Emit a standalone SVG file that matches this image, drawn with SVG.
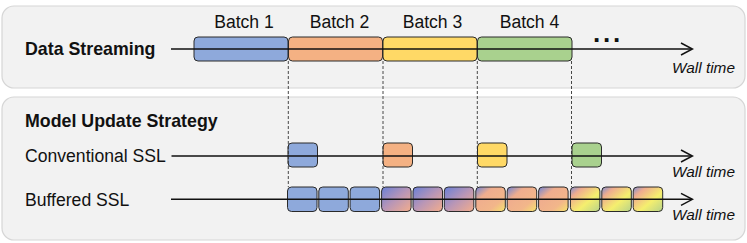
<svg xmlns="http://www.w3.org/2000/svg" width="747" height="243" viewBox="0 0 747 243">
<defs>
<style>
.panel{fill:#f2f2f2;stroke:#d6d6d6;stroke-width:1.2}
.box{stroke:#2a2a2a;stroke-width:1}
.b1{fill:#8ea9db}.b2{fill:#f4b183}.b3{fill:#ffd966}.b4{fill:#a9d18e}
.g2{fill:url(#grad2)}.g3{fill:url(#grad3)}.g4{fill:url(#grad4)}
.axis{stroke:#111;stroke-width:1.5;fill:none}
.dash{stroke:#333;stroke-width:0.9;stroke-dasharray:3 2;fill:none}
.t{font-family:"Liberation Sans",Arial,sans-serif;fill:#111}
.lbl{font-size:17.6px}
.bold{font-size:17.8px;font-weight:bold}
.wt{font-size:15.4px;font-style:italic}
</style>
<marker id="arr" viewBox="0 0 14 14" refX="12" refY="7" markerWidth="14" markerHeight="14" markerUnits="userSpaceOnUse" orient="auto">
<path d="M1,1 L12.5,7 L1,13" fill="none" stroke="#111" stroke-width="1.5"/>
</marker>
<linearGradient id="grad2" x1="0" y1="0" x2="1" y2="1">
<stop offset="0" stop-color="#6a80d6"/><stop offset="0.5" stop-color="#b996b6"/><stop offset="1" stop-color="#f3ad8c"/>
</linearGradient>
<linearGradient id="grad3" x1="0" y1="0" x2="1" y2="1">
<stop offset="0" stop-color="#6f84d4"/><stop offset="0.3" stop-color="#efad8e"/><stop offset="0.7" stop-color="#f2b68a"/><stop offset="1" stop-color="#f6e46c"/>
</linearGradient>
<linearGradient id="grad4" x1="0" y1="0" x2="1" y2="1">
<stop offset="0" stop-color="#7d8fd2"/><stop offset="0.22" stop-color="#efac8f"/><stop offset="0.6" stop-color="#f5ef6e"/><stop offset="1" stop-color="#b6d28a"/>
</linearGradient>
</defs>

<g id="panel-data-streaming">
<rect class="panel" x="2" y="6" width="743" height="82" rx="12"/>
<text class="t bold" x="25" y="54.5">Data Streaming</text>
</g>
<g id="panel-model-update">
<rect class="panel" x="2" y="97" width="743" height="143" rx="12"/>
<text class="t bold" x="25" y="126.5">Model Update Strategy</text>
</g>

<g id="batch1"><rect class="box b1" x="194" y="37" width="94" height="24" rx="4"/><text class="t lbl" x="244" y="28" text-anchor="middle">Batch 1</text></g>
<g id="batch2"><rect class="box b2" x="288.5" y="37" width="94" height="24" rx="4"/><text class="t lbl" x="339.5" y="28" text-anchor="middle">Batch 2</text></g>
<g id="batch3"><rect class="box b3" x="383" y="37" width="94" height="24" rx="4"/><text class="t lbl" x="432.5" y="28" text-anchor="middle">Batch 3</text></g>
<g id="batch4"><rect class="box b4" x="477.5" y="37" width="94.5" height="24" rx="4"/><text class="t lbl" x="529.5" y="28" text-anchor="middle">Batch 4</text></g>
<g id="ellipsis"><text class="t" x="593" y="42" font-size="26" font-weight="bold" letter-spacing="2.8">...</text></g>

<g id="conventional-ssl">
<text class="t lbl" x="25" y="161.5">Conventional SSL</text>
<rect class="box b1" x="288" y="143" width="29.5" height="24" rx="4"/>
<rect class="box b2" x="383" y="143" width="29.5" height="24" rx="4"/>
<rect class="box b3" x="477.5" y="143" width="29.5" height="24" rx="4"/>
<rect class="box b4" x="572" y="143" width="29.5" height="24" rx="4"/>
</g>

<g id="buffered-ssl">
<text class="t lbl" x="25" y="206">Buffered SSL</text>
<rect class="box b1" x="287.5" y="187" width="29.5" height="24.5" rx="4"/>
<rect class="box b1" x="318.8" y="187" width="29.5" height="24.5" rx="4"/>
<rect class="box b1" x="350.1" y="187" width="29.5" height="24.5" rx="4"/>
<rect class="box g2" x="381.6" y="187" width="29.5" height="24.5" rx="4"/>
<rect class="box g2" x="413" y="187" width="29.5" height="24.5" rx="4"/>
<rect class="box g2" x="444.3" y="187" width="29.5" height="24.5" rx="4"/>
<rect class="box g3" x="475.8" y="187" width="29.5" height="24.5" rx="4"/>
<rect class="box g3" x="507.2" y="187" width="29.5" height="24.5" rx="4"/>
<rect class="box g3" x="538.6" y="187" width="29.5" height="24.5" rx="4"/>
<rect class="box g4" x="570.4" y="187" width="29.5" height="24.5" rx="4"/>
<rect class="box g4" x="601.8" y="187" width="29.5" height="24.5" rx="4"/>
<rect class="box g4" x="633.2" y="187" width="29.5" height="24.5" rx="4"/>
</g>

<g id="connectors">
<line class="axis" x1="171" y1="49" x2="692" y2="49" marker-end="url(#arr)"/>
<line class="axis" x1="171.5" y1="156" x2="692" y2="156" marker-end="url(#arr)"/>
<line class="axis" x1="171" y1="199.3" x2="692" y2="199.3" marker-end="url(#arr)"/>
<line class="dash" x1="288.3" y1="61" x2="288.3" y2="187"/>
<line class="dash" x1="383" y1="61" x2="383" y2="187"/>
<line class="dash" x1="477.3" y1="61" x2="477.3" y2="187"/>
<line class="dash" x1="571.5" y1="61" x2="571.5" y2="187"/>
<text class="t wt" x="672" y="72.5">Wall time</text>
<text class="t wt" x="672" y="177">Wall time</text>
<text class="t wt" x="672" y="220">Wall time</text>
</g>
</svg>
